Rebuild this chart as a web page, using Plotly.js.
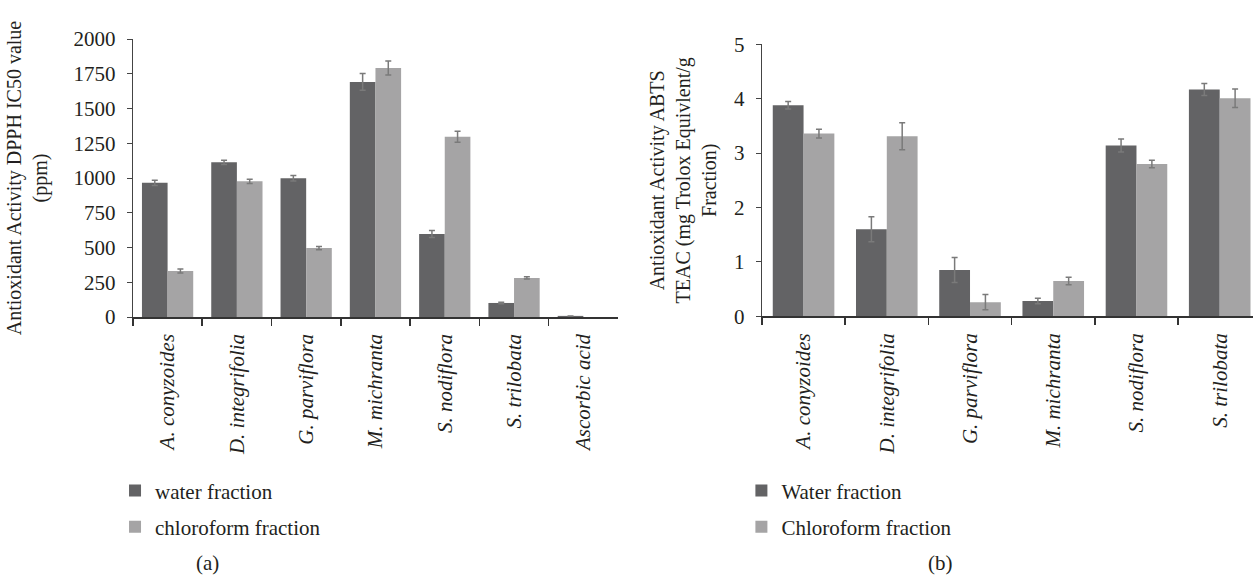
<!DOCTYPE html>
<html>
<head>
<meta charset="utf-8">
<script src="https://cdn.plot.ly/plotly-3.0.1.min.js"></script>
<style>html,body{margin:0;padding:0;background:#fff;}#chart{width:1253px;height:577px;}</style>
</head>
<body>
<div id="chart"></div>
<script>
// Panel (a): DPPH IC50 (ppm)
const catsA = ["A. conyzoides", "D. integrifolia", "G. parviflora", "M. michranta", "S. nodiflora", "S. trilobata", "Ascorbic acid"];
const waterA = [965, 1113, 998, 1691, 597, 101, 8];
const waterAErr = [18, 15, 20, 60, 25, 5, 0];
const chloroA = [331, 976, 496, 1791, 1297, 281, null];
const chloroAErr = [15, 15, 12, 50, 40, 8, null];

// Panel (b): ABTS TEAC
const catsB = ["A. conyzoides", "D. integrifolia", "G. parviflora", "M. michranta", "S. nodiflora", "S. trilobata"];
const waterB = [3.88, 1.60, 0.85, 0.28, 3.14, 4.17];
const waterBErr = [0.07, 0.23, 0.23, 0.05, 0.12, 0.11];
const chloroB = [3.36, 3.31, 0.26, 0.65, 2.80, 4.01];
const chloroBErr = [0.08, 0.25, 0.14, 0.07, 0.07, 0.17];

const ticksA = [0, 250, 500, 750, 1000, 1250, 1500, 1750, 2000];
const ticksB = [0, 1, 2, 3, 4, 5];

const DARK = "#636365", LIGHT = "#a5a4a5", ERR = "#7a7a7a", TXT = "#231f20";
const FONT = "Liberation Serif, Times New Roman, serif";
const FS = 21;

function errObj(arr) {
  return {type: "data", array: arr, visible: true, color: ERR, thickness: 1.5, width: 3};
}

const traces = [
  {type: "bar", x: catsA, y: waterA, name: "water fraction", marker: {color: DARK},
   error_y: errObj(waterAErr), xaxis: "x", yaxis: "y", legend: "legend", legendgroup: "a1"},
  {type: "bar", x: catsA, y: chloroA, name: "chloroform fraction", marker: {color: LIGHT},
   error_y: errObj(chloroAErr), xaxis: "x", yaxis: "y", legend: "legend", legendgroup: "a2"},
  {type: "bar", x: catsB, y: waterB, name: "Water fraction", marker: {color: DARK},
   error_y: errObj(waterBErr), xaxis: "x2", yaxis: "y2", legend: "legend2", legendgroup: "b1"},
  {type: "bar", x: catsB, y: chloroB, name: "Chloroform fraction", marker: {color: LIGHT},
   error_y: errObj(chloroBErr), xaxis: "x2", yaxis: "y2", legend: "legend2", legendgroup: "b2"}
];

const xCommon = {
  type: "category", showline: true, linecolor: "#333", linewidth: 1.5,
  ticks: "outside", tickson: "boundaries", ticklen: 7, tickcolor: "#333", tickwidth: 1.5,
  ticklabelstandoff: 7,
  tickangle: -90, tickfont: {family: FONT, size: FS, color: TXT, style: "italic"},
  showgrid: false, zeroline: false, fixedrange: true
};
const yCommon = {
  showline: true, linecolor: "#444", linewidth: 1.2,
  ticks: "outside", ticklen: 5, tickcolor: "#444",
  ticklabelstandoff: 7,
  tickfont: {family: FONT, size: FS, color: TXT},
  showgrid: false, zeroline: false, fixedrange: true
};

const layout = {
  width: 1253, height: 577,
  margin: {l: 0, r: 0, t: 0, b: 0},
  paper_bgcolor: "#fff", plot_bgcolor: "#fff",
  font: {family: FONT, color: TXT, size: FS},
  barmode: "group", bargap: 0.26, bargroupgap: 0,
  xaxis: Object.assign({}, xCommon, {domain: [0.1061, 0.4932], range: [-0.5, 6.5], anchor: "y"}),
  yaxis: Object.assign({}, yCommon, {domain: [0.4506, 0.9324], range: [0, 2000], tickvals: ticksA, anchor: "x",
    title: {text: "Antioxidant Activity DPPH IC50 value<br>(ppm)", font: {family: FONT, size: 20, color: TXT}, standoff: 20}}),
  xaxis2: Object.assign({}, xCommon, {domain: [0.6081, 1.0], range: [-0.5, 5.4], anchor: "y2"}),
  yaxis2: Object.assign({}, yCommon, {domain: [0.4518, 0.9232], range: [0, 5], tickvals: ticksB, anchor: "x2",
    title: {text: "Antioxidant Activity ABTS<br>TEAC (mg Trolox Equivlent/g<br>Fraction)", font: {family: FONT, size: 20, color: TXT}, standoff: 12}}),
  legend: {x: 0.0918, y: 0.185, xanchor: "left", yanchor: "top", traceorder: "grouped", tracegroupgap: 6,
    font: {family: FONT, size: FS, color: TXT}, bgcolor: "rgba(0,0,0,0)", itemwidth: 30},
  legend2: {x: 0.5917, y: 0.185, xanchor: "left", yanchor: "top", traceorder: "grouped", tracegroupgap: 6,
    font: {family: FONT, size: FS, color: TXT}, bgcolor: "rgba(0,0,0,0)", itemwidth: 30},
  showlegend: true,
  annotations: [
    {text: "(a)", xref: "paper", yref: "paper", x: 207/1253, y: 1 - 563/577, xanchor: "center", yanchor: "middle", showarrow: false, font: {family: FONT, size: FS, color: TXT}},
    {text: "(b)", xref: "paper", yref: "paper", x: 940/1253, y: 1 - 563/577, xanchor: "center", yanchor: "middle", showarrow: false, font: {family: FONT, size: FS, color: TXT}}
  ]
};

Plotly.newPlot("chart", traces, layout, {displayModeBar: false, staticPlot: true});
</script>
</body>
</html>
